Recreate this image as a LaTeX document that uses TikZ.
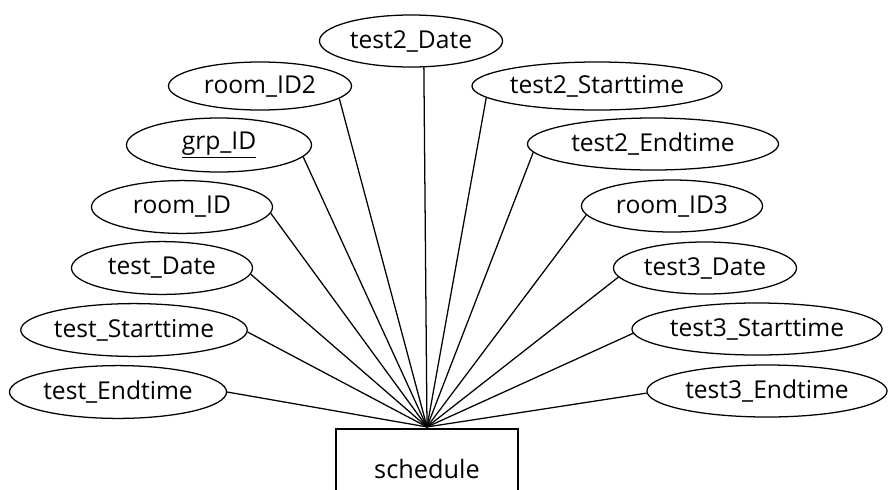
\documentclass[tikz,border=0pt]{standalone}
\usepackage{fontspec}
\setmainfont{Open Sans}
\usetikzlibrary{shapes.geometric}
\begin{document}
\begin{tikzpicture}[x=0.025cm,y=-0.025cm,line width=0.9pt]
    \tikzstyle{attr}=[ellipse,draw,inner sep=0pt,font=\fontsize{17.5}{20}\selectfont]
    \tikzstyle{entity}=[rectangle,draw,minimum width=4.55cm,minimum height=2cm,font=\fontsize{18}{20}\selectfont]
    \useasboundingbox (0,0) rectangle (890,489);
    \clip (0,0) rectangle (890,489);

    % entity
    \node[entity] (schedule) at (427,469) {schedule};
    \coordinate (hub) at ([yshift=1pt]schedule.north);

    % attributes at the top
    \foreach \n/\x/\y/\w/\h/\t in {test2date/411/41/4.575/1.3/test2\_Date,
                                    roomidtwo/260/86/4.575/1.2/room\_ID2,
                                    test2start/597/86/6.25/1.2/test2\_Starttime,
                                    grpid/219/145/4.625/1.35/\underline{grp\_ID},
                                    test2end/653/144/6.275/1.3/test2\_Endtime}
    \node[attr, minimum width=\w cm, minimum height=\h cm] (\n) at (\x,\y) {\t};

    % attributes on the left
    \foreach \n/\x/\y/\w/\t in {roomid/182/207/4.525/room\_ID,
                                 testdate/162/268/4.525/test\_Date,
                                 teststart/134/330/5.4/test\_Starttime,
                                 testend/118/392/5.425/test\_Endtime}
    \node[attr, minimum width=\w cm, minimum height=1.32cm] (\n) at (\x,\y) {\t};

    % attributes on the right
    \foreach \n/\x/\y/\w/\t in {roomidthree/672/206/4.525/room\_ID3,
                                 test3date/705/268/4.575/test3\_Date,
                                 test3start/757/329/6.25/test3\_Starttime,
                                 test3end/767/391/6.0/test3\_Endtime}
    \node[attr, minimum width=\w cm, minimum height=1.3cm] (\n) at (\x,\y) {\t};

    % connect every attribute with the entity
    \foreach \n/\a in {test2date/-64,roomidtwo/-9,test2start/186,grpid/-8,test2end/184,
                       roomid/-4,testdate/-4,teststart/-1,testend/0,
                       roomidthree/186,test3date/186,test3start/182,test3end/181}
    \draw (\n.\a) -- (hub);
\end{tikzpicture}
\end{document}
